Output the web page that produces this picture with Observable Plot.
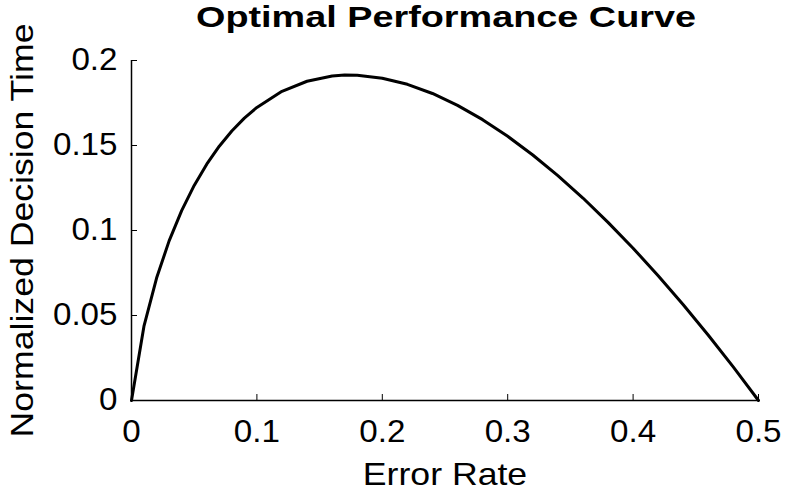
<!DOCTYPE html>
<html>
<head>
<meta charset="utf-8">
<script src="https://cdn.jsdelivr.net/npm/d3@7"></script>
<script src="https://cdn.jsdelivr.net/npm/@observablehq/plot@0.6"></script>
<style>
  html, body { margin: 0; padding: 0; background: #fff; }
  #wrap { position: relative; width: 787px; height: 490px; overflow: hidden; }
  #title { position: relative; height: 45px; z-index: 1; }
  #title span {
    position: absolute; left: 446px; top: 0; line-height: 45px; white-space: nowrap;
    font: bold 30px "Liberation Sans", Arial, sans-serif; color: #000;
    transform: translateX(-50%) scaleX(1.26); transform-origin: 50% 50%;
  }
  #chart svg { overflow: visible; }
</style>
</head>
<body>
<div id="wrap">
  <div id="title"><span>Optimal Performance Curve</span></div>
  <div id="chart"></div>
</div>
<script>
// Data
const errorRate = [0, 0.01, 0.02, 0.03, 0.04, 0.05, 0.06, 0.07, 0.08, 0.09, 0.10,
  0.12, 0.14, 0.16, 0.17, 0.18, 0.20, 0.22, 0.24, 0.26, 0.28, 0.30,
  0.32, 0.34, 0.36, 0.38, 0.40, 0.42, 0.44, 0.46, 0.48, 0.50];
const decisionTime = [0, 0.0439, 0.0720, 0.0939, 0.1117, 0.1265, 0.1390, 0.1496, 0.1585, 0.1661, 0.1724,
  0.1819, 0.1878, 0.1909, 0.1914, 0.1913, 0.1896, 0.1860, 0.1806, 0.1736, 0.1652, 0.1554,
  0.1444, 0.1323, 0.1191, 0.1048, 0.0896, 0.0734, 0.0563, 0.0384, 0.0196, 0];
const xTicks = [0, 0.1, 0.2, 0.3, 0.4, 0.5];
const yTicks = [0, 0.05, 0.1, 0.15, 0.2];
const xLabel = "Error Rate";
const yLabel = "Normalized Decision Time";

const data = errorRate.map((e, i) => ({e, t: decisionTime[i]}));
const font = '"Liberation Sans", Arial, sans-serif';

const chart = Plot.plot({
  width: 787,
  height: 445,
  marginLeft: 131,
  marginRight: 29,
  marginTop: 15,
  marginBottom: 90,
  style: {fontFamily: font, color: "#000", background: "transparent", overflow: "visible"},
  x: {domain: [0, 0.5]},
  y: {domain: [0, 0.2]},
  marks: [
    Plot.axisX({ticks: xTicks, tickSize: -6, tickPadding: 25, fontSize: 31, tickFormat: d3.format("~g"),
      label: xLabel, labelAnchor: "center", labelArrow: "none", labelOffset: 84}),
    Plot.axisY({ticks: yTicks, tickSize: -6, tickPadding: 20, fontSize: 31, tickFormat: d3.format("~g"),
      label: yLabel, labelAnchor: "center", labelArrow: "none", labelOffset: 121}),
    Plot.ruleY([0], {stroke: "#000", strokeWidth: 1.5}),
    Plot.ruleX([0], {stroke: "#000", strokeWidth: 1.5}),
    Plot.line(data, {x: "e", y: "t", stroke: "#000", strokeWidth: 3, curve: "linear"})
  ]
});

document.getElementById("chart").appendChild(chart);

// widen glyphs along the text direction, about each text's anchor point
function stretch(t, s) {
  const b = t.getBBox();
  const ta = getComputedStyle(t).textAnchor;
  const ax = ta === "end" ? b.x + b.width : ta === "middle" ? b.x + b.width / 2 : b.x;
  const ay = b.y + b.height / 2;
  const tr = t.getAttribute("transform") || "";
  t.setAttribute("transform", `${tr} translate(${ax},${ay}) scale(${s},1) translate(${-ax},${-ay})`);
}
chart.querySelectorAll('[aria-label="x-axis label"] text, [aria-label="y-axis label"] text')
  .forEach(t => {
    t.style.fontSize = "31px";
    t.textContent = t.closest('[aria-label="y-axis label"]') ? yLabel : xLabel;
    stretch(t, 1.15);
  });
chart.querySelectorAll('[aria-label="x-axis tick label"] text, [aria-label="y-axis tick label"] text')
  .forEach(t => stretch(t, 1.07));
</script>
</body>
</html>
